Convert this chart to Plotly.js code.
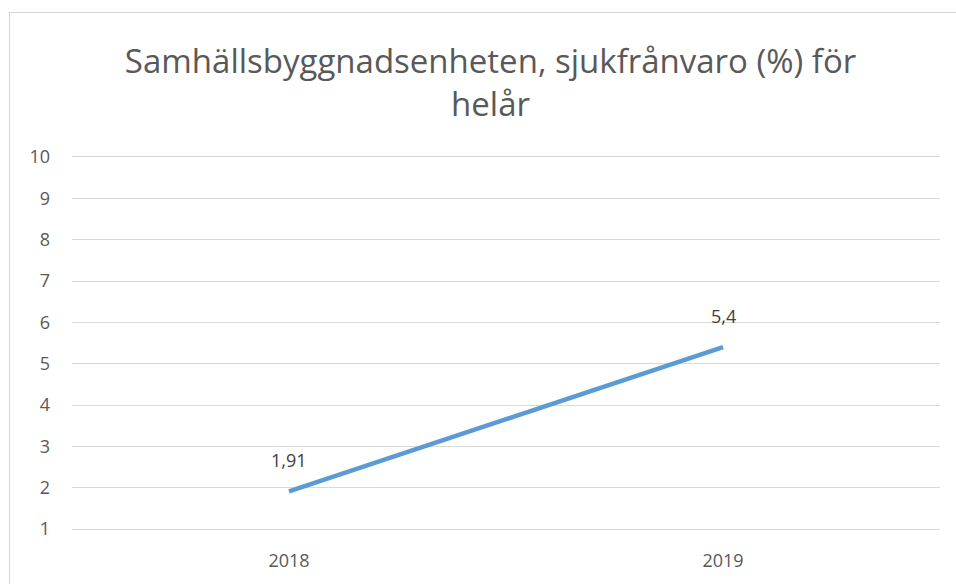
<!DOCTYPE html>
<html><head><meta charset="utf-8">
<script src="https://cdn.plot.ly/plotly-3.0.1.min.js"></script>
<style>
body{margin:0;background:#fff;}
#wrap{position:absolute;left:9px;top:12px;border-top:1px solid #d6d6d6;border-left:1px solid #d6d6d6;}
#chart{width:946px;height:571px;}
</style></head><body>
<div id="wrap"><div id="chart"></div></div>
<script>
const categories = ['2018', '2019'];
const values = [1.91, 5.4];
const yTicks = [1,2,3,4,5,6,7,8,9,10];
const titleText = 'Samhällsbyggnadsenheten, sjukfrånvaro (%) för<br>helår';

const font = 'Open Sans, sans-serif';
const trace = {
  x: categories, y: values, type: 'scatter', mode: 'lines',
  line: {color: '#5B9BD5', width: 4.5}, hoverinfo: 'skip'
};
const annotations = values.map((v, i) => ({
  x: i, y: v, xref: 'x', yref: 'y',
  text: String(v).replace('.', ','),
  showarrow: false, yshift: 31,
  font: {family: font, size: 18, color: '#404040'}
}));
const layout = {
  width: 946, height: 571,
  margin: {l: 62, r: 16, t: 144, b: 55},
  paper_bgcolor: '#fff', plot_bgcolor: '#fff',
  separators: ', ',
  showlegend: false,
  title: {text: titleText, x: 0.508, xref: 'container', xanchor: 'center',
          y: 0.895, yref: 'container', yanchor: 'middle',
          font: {family: font, size: 33, color: '#595959'}},
  xaxis: {type: 'category', range: [-0.5, 1.5], showgrid: false, zeroline: false,
          showline: true, mirror: true, linecolor: '#d9d9d9', linewidth: 1,
          ticks: '', ticklabelstandoff: 15,
          tickfont: {family: font, size: 18, color: '#595959'}},
  yaxis: {range: [1, 10], tickvals: yTicks, ticktext: yTicks.map(String),
          showgrid: true, gridcolor: '#d9d9d9', gridwidth: 1, zeroline: false,
          showline: false, ticks: '', ticklabelstandoff: 21,
          tickfont: {family: font, size: 18, color: '#595959'}},
  annotations: annotations
};
Plotly.newPlot('chart', [trace], layout, {staticPlot: true});
</script></body></html>
